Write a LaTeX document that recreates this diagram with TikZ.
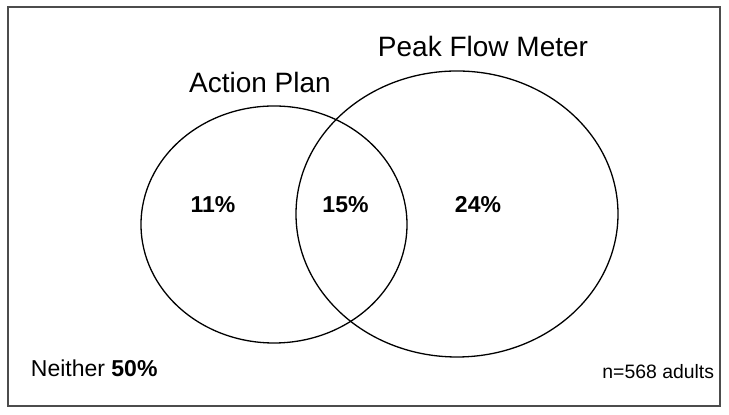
\documentclass[tikz,border=0pt]{standalone}
\usepackage{fontspec}
\setmainfont{Liberation Sans}
\usepackage{tikz}

\tikzset{
  setname/.style={font=\fontsize{14}{16}\selectfont,inner sep=0pt,anchor=base},
  share/.style={font=\fontsize{11.5}{13}\selectfont\bfseries,inner sep=0pt,anchor=base},
  setline/.style={line width=0.65pt,black},
}

\begin{document}
\begin{tikzpicture}[x=0.5pt,y=-0.5pt]
\useasboundingbox (0,0) rectangle (729,415);
\draw[line width=1pt,gray!60!black] (8,7) rectangle (720,406);

\draw[setline] (274,224.5) ellipse [x radius=133, y radius=118.5];
\draw[setline] (457,214) ellipse [x radius=161, y radius=143];

\node[setname] (plan) at (260,93) {Action Plan};
\node[setname] (meter) at (483,57) {Peak Flow Meter};

\node[share] (planonly) at (213,213) {11\%};
\node[share] (both) at (345.5,213) {15\%};
\node[share] (meteronly) at (478,213) {24\%};

\node[font=\fontsize{11.5}{13}\selectfont,inner sep=0pt,anchor=base west] (neither) at (30.5,377) {Neither \textbf{50\%}};
\node[font=\fontsize{9.7}{11}\selectfont,inner sep=0pt,anchor=base east] (sample) at (714.5,379) {n=568 adults};
\end{tikzpicture}
\end{document}
